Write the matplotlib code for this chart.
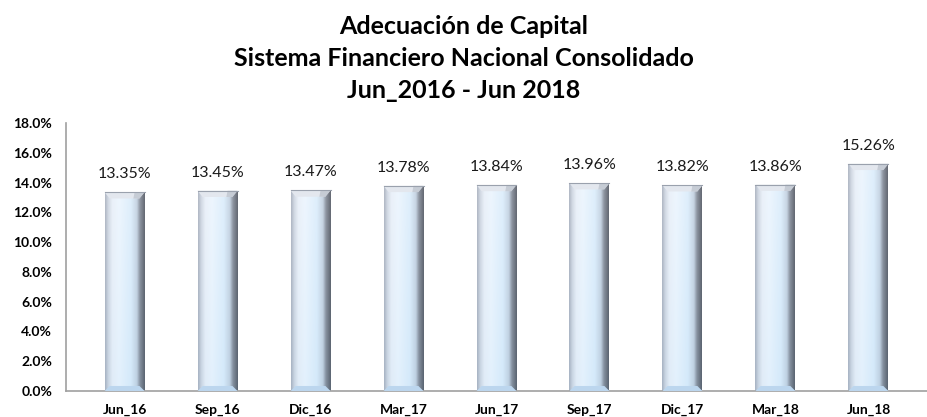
import matplotlib
matplotlib.use("Agg")
import matplotlib.pyplot as plt
import numpy as np
from matplotlib.colors import LinearSegmentedColormap
from matplotlib.patches import Polygon
from matplotlib.ticker import FuncFormatter, MultipleLocator

categories = ["Jun_16", "Sep_16", "Dic_16", "Mar_17", "Jun_17", "Sep_17", "Dic_17", "Mar_18", "Jun_18"]
values = [13.35, 13.45, 13.47, 13.78, 13.84, 13.96, 13.82, 13.86, 15.26]
labels = ["13.35%", "13.45%", "13.47%", "13.78%", "13.84%", "13.96%", "13.82%", "13.86%", "15.26%"]
title_lines = ["Adecuación de Capital", "Sistema Financiero Nacional Consolidado", "Jun_2016 - Jun 2018"]

plt.rcParams['font.family'] = ['Lato', 'DejaVu Sans']

fig = plt.figure(figsize=(9.27, 4.17), dpi=100)
ax = fig.add_axes([66/927, 26/417, 1 - 66/927, (391-123)/417])

x = np.arange(len(categories))
width = 0.43
bars = ax.bar(x, values, width=width, color="none", edgecolor="none", zorder=2)

cmap = LinearSegmentedColormap.from_list("bevel", [
    (0.0, "#9aa3b2"), (0.08, "#c7d0dc"), (0.18, "#e6eef7"), (0.35, "#eaf5fe"),
    (0.65, "#d6ebfb"), (0.8, "#b9cadb"), (0.88, "#6d7684"), (1.0, "#353b46")])
nx, ny = 120, 200
hprof = cmap(np.linspace(0, 1, nx))[:, :3]
vt = np.linspace(0, 1, ny)[:, None, None]  # 0 bottom, 1 top
blue = np.array([0.80, 0.89, 0.97])
white = np.array([0.97, 0.97, 0.99])
img = hprof[None, :, :] * (1 - 0.25 * (1 - vt)) + blue * 0.25 * (1 - vt)
img = img * (1 - 0.25 * vt) + white * 0.25 * vt
img = np.clip(img, 0, 1)

bx = 0.055   # bevel width (category units)
by = 0.42    # bevel height (value units)
for b in bars:
    x0, w, h = b.get_x(), b.get_width(), b.get_height()
    im = ax.imshow(img, aspect="auto", extent=(x0, x0 + w, 0, h),
                   origin="lower", zorder=2, interpolation="bilinear")
    im.set_clip_path(b)
    top = Polygon([(x0, h), (x0 + w, h), (x0 + w - bx, h - by), (x0 + bx, h - by)],
                  closed=True, facecolor="#e3e7ee", edgecolor="none", zorder=3)
    ax.add_patch(top)
    topr = Polygon([(x0 + w * 0.75, h), (x0 + w, h), (x0 + w - bx, h - by), (x0 + w * 0.72, h - by)],
                   closed=True, facecolor="#b4bac5", edgecolor="none", alpha=0.6, zorder=3)
    ax.add_patch(topr)
    bot = Polygon([(x0, 0), (x0 + w, 0), (x0 + w - bx, by * 0.8), (x0 + bx, by * 0.8)],
                  closed=True, facecolor="#bcd6ee", edgecolor="none", zorder=3)
    ax.add_patch(bot)
    ax.plot([x0, x0 + w], [h, h], color="#9aa1ad", lw=0.8, zorder=4)

for xi, v, lab in zip(x, values, labels):
    ax.annotate(lab, (xi, v), xytext=(0, 8), textcoords="offset points",
                ha="center", va="bottom", fontsize=11.5, color="#1a1a1a")

ax.set_xlim(-0.63, len(categories) - 0.37)
ax.set_ylim(0, 18)
ax.yaxis.set_major_locator(MultipleLocator(2))
ax.yaxis.set_major_formatter(FuncFormatter(lambda v, p: f"{v:.1f}%"))
ax.set_xticks(x)
ax.set_xticklabels(categories)
for t in ax.get_xticklabels() + ax.get_yticklabels():
    t.set_fontweight("bold")
    t.set_fontsize(10)
ax.tick_params(axis="both", length=0)
ax.tick_params(axis="y", pad=10)
ax.tick_params(axis="x", pad=9)
for s in ["top", "right"]:
    ax.spines[s].set_visible(False)
for s in ["left", "bottom"]:
    ax.spines[s].set_color("#a0a0a0")
    ax.spines[s].set_linewidth(1.2)

for yy, line in zip([26, 58, 90], title_lines):
    fig.text(0.5, 1 - yy/417, line, ha="center", va="center", fontsize=18, fontweight="bold")

fig.savefig("out.png", dpi=100)
